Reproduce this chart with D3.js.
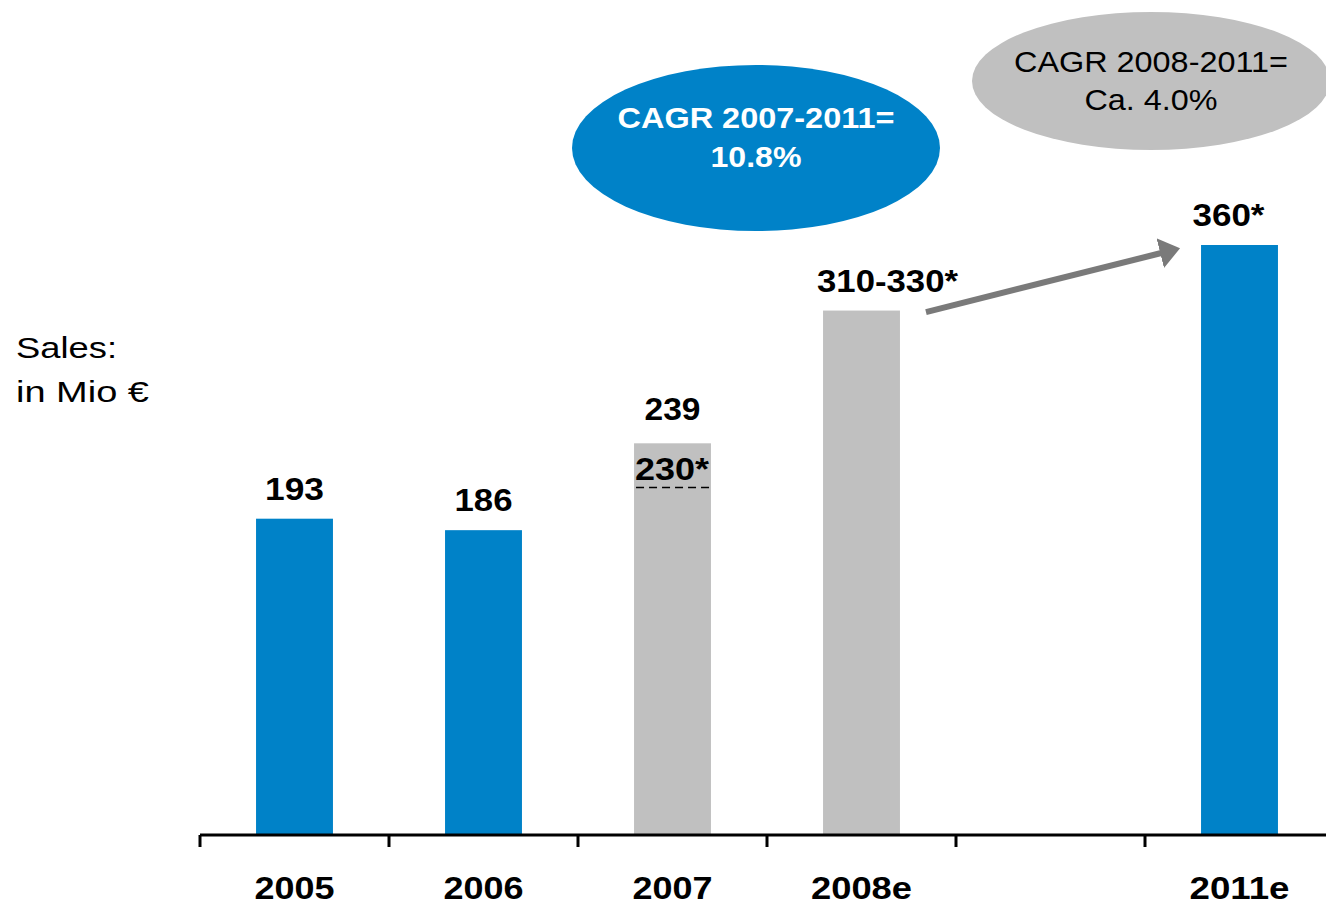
<html>
<head>
<meta charset="utf-8">
<title>Sales chart</title>
<style>
  body { margin: 0; background: #fff; }
  text { font-family: "Liberation Sans", Arial, sans-serif; }
</style>
</head>
<body>
<div id="svghere"></div>
<script src="https://cdnjs.cloudflare.com/ajax/libs/d3/7.8.5/d3.min.js"></script>
<script>
// data
var categories = ['2005', '2006', '2007', '2008e', 'gap', '2011e'];
var salesValues = [193, 186, 239, 320, null, 360];
var valueLabels = ['193', '186', '239', '310-330*', '', '360*'];
var barKinds = ['actual', 'actual', 'restated', 'estimate', 'none', 'actual'];
var tickLabels = ['2005', '2006', '2007', '2008e', '', '2011e'];
var restatedLabel = '230*';
var restatedLevel = 212;   // where the dashed line sits on the value scale
var cagrBlue = ['CAGR 2007-2011=', '10.8%'];
var cagrGray = ['CAGR 2008-2011=', 'Ca. 4.0%'];
var yTitle = ['Sales:', 'in Mio €'];

var blue = '#0082c8', grey = '#c0c0c0', arrowGrey = '#7a7a7a';

// the source text is a bit wider than Liberation Sans, so stretch to these widths
var valueLabelDx = [0, 0, 0, 26, 0, -11];
var widthOf = {
    '193': 59, '186': 58, '239': 56, '310-330*': 141, '360*': 72, '230*': 74,
    '2005': 80, '2006': 80, '2007': 80, '2008e': 101, '2011e': 100,
    'Sales:': 101, 'in Mio €': 133,
    'CAGR 2007-2011=': 277, '10.8%': 91,
    'CAGR 2008-2011=': 274, 'Ca. 4.0%': 133
};
function fit(sel) {
    sel.attr('textLength', function(d) { return widthOf[this.textContent] || null; })
       .attr('lengthAdjust', 'spacingAndGlyphs');
}

var svg = d3.select('#svghere')
    .append('svg')
    .attr('width', 1326)
    .attr('height', 908);

var step = 189;
var x = d3.scaleBand()
    .domain(categories)
    .range([200, 200 + step * categories.length])
    .paddingInner(0.593)
    .paddingOuter(0.2965);

var y = d3.scaleLinear()
    .domain([0, 360])
    .range([835, 245]);

var rows = categories.map(function(c, i) {
    return { cat: c, value: salesValues[i], label: valueLabels[i], kind: barKinds[i], dx: valueLabelDx[i] };
}).filter(function(d) { return d.value !== null; });

// bars
svg.selectAll('rect.bar')
    .data(rows)
    .enter()
    .append('rect')
    .attr('class', 'bar')
    .attr('x', function(d) { return x(d.cat); })
    .attr('y', function(d) { return y(d.value); })
    .attr('width', x.bandwidth())
    .attr('height', function(d) { return y(0) - y(d.value); })
    .attr('fill', function(d) { return d.kind === 'actual' ? blue : grey; });

// value labels
svg.selectAll('text.val')
    .data(rows)
    .enter()
    .append('text')
    .attr('class', 'val')
    .attr('x', function(d) { return x(d.cat) + x.bandwidth() / 2 + d.dx; })
    .attr('y', function(d) { return y(d.value) - (d.kind === 'restated' ? 23 : 19); })
    .attr('text-anchor', 'middle')
    .style('font-size', '31px')
    .style('font-weight', 'bold')
    .text(function(d) { return d.label; })
    .call(fit);

// restated 2007 figure with dashed line
svg.append('text')
    .attr('x', x('2007') + 1)
    .attr('y', y(restatedLevel) - 8)
    .style('font-size', '31px')
    .style('font-weight', 'bold')
    .text(restatedLabel)
    .call(fit);

svg.append('line')
    .attr('x1', x('2007') + 2)
    .attr('x2', x('2007') + x.bandwidth() + 3)
    .attr('y1', y(restatedLevel))
    .attr('y2', y(restatedLevel))
    .attr('stroke', '#000')
    .attr('stroke-width', 1.5)
    .attr('stroke-dasharray', '8,5');

// x axis: baseline with ticks on the band edges
svg.append('line')
    .attr('x1', x.range()[0])
    .attr('x2', 1326)
    .attr('y1', y(0))
    .attr('y2', y(0))
    .attr('stroke', '#000')
    .attr('stroke-width', 3);

svg.selectAll('line.tick')
    .data(d3.range(categories.length))
    .enter()
    .append('line')
    .attr('class', 'tick')
    .attr('x1', function(i) { return x.range()[0] + i * x.step(); })
    .attr('x2', function(i) { return x.range()[0] + i * x.step(); })
    .attr('y1', y(0))
    .attr('y2', y(0) + 12)
    .attr('stroke', '#000')
    .attr('stroke-width', 3);

svg.selectAll('text.cat')
    .data(categories)
    .enter()
    .append('text')
    .attr('class', 'cat')
    .attr('x', function(d) { return x(d) + x.bandwidth() / 2; })
    .attr('y', 899)
    .attr('text-anchor', 'middle')
    .style('font-size', '31px')
    .style('font-weight', 'bold')
    .text(function(d, i) { return tickLabels[i]; })
    .call(fit);

// y title
svg.selectAll('text.ytitle')
    .data(yTitle)
    .enter()
    .append('text')
    .attr('class', 'ytitle')
    .attr('x', 16)
    .attr('y', function(d, i) { return 358 + i * 44; })
    .style('font-size', '30px')
    .text(function(d) { return d; })
    .call(fit);

// arrow 2008e -> 2011e
svg.append('defs').append('marker')
    .attr('id', 'head')
    .attr('viewBox', '0 0 10 15')
    .attr('refX', 0.5)
    .attr('refY', 7.5)
    .attr('markerWidth', 3.4)
    .attr('markerHeight', 5.1)
    .attr('orient', 'auto')
    .append('path')
    .attr('d', 'M0,0 L10,7.5 L0,15 z')
    .attr('fill', arrowGrey);

var ax0 = x('2008e') + x.bandwidth() + 26, ay0 = y(320) + 1.5;
var ax1 = x('2011e') - 20, ay1 = y(360) + 3;
var alen = Math.hypot(ax1 - ax0, ay1 - ay0), headLen = 20.4;
var ak = (alen - headLen) / alen;

svg.append('line')
    .attr('x1', ax0)
    .attr('y1', ay0)
    .attr('x2', ax0 + (ax1 - ax0) * ak)
    .attr('y2', ay0 + (ay1 - ay0) * ak)
    .attr('stroke', arrowGrey)
    .attr('stroke-width', 6)
    .attr('marker-end', 'url(#head)');

// CAGR bubbles
function bubble(cx, cy, rx, ry, fill, lines, color, weight, lineY) {
    svg.append('ellipse')
        .attr('cx', cx).attr('cy', cy)
        .attr('rx', rx).attr('ry', ry)
        .attr('fill', fill);
    svg.selectAll(null)
        .data(lines)
        .enter()
        .append('text')
        .attr('x', cx)
        .attr('y', function(d, i) { return lineY[i]; })
        .attr('text-anchor', 'middle')
        .attr('fill', color)
        .style('font-size', '30px')
        .style('font-weight', weight)
        .text(function(d) { return d; })
        .call(fit);
}

bubble(756, 148, 184, 83, blue, cagrBlue, '#fff', 'bold', [128, 167]);
bubble(1151, 81, 179, 69, grey, cagrGray, '#000', 'normal', [72, 110]);
</script>
</body>
</html>
